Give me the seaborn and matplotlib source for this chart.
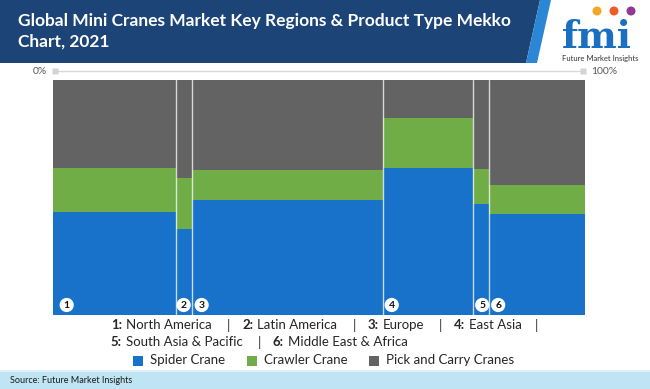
import matplotlib
matplotlib.use("Agg")
import matplotlib.pyplot as plt
import seaborn as sns
import numpy as np
from matplotlib.patches import Polygon, Rectangle, Circle

# ============================================================
# DATA
# ============================================================

regions = ["North America", "Latin America", "Europe", "East Asia",
           "South Asia & Pacific", "Middle East & Africa"]
region_share = [23.1, 3.0, 35.9, 17.0, 3.0, 18.0]

products = ["Spider Crane", "Crawler Crane", "Pick and Carry Cranes"]
spider = [43.7, 36.7, 48.9, 62.7, 47.2, 42.9]
crawler = [19.0, 21.4, 12.8, 21.3, 14.9, 12.3]
pick_carry = [37.3, 41.9, 38.3, 16.0, 37.9, 44.8]

colors = ["#1872c9", "#70ad47", "#636363"]

# ============================================================
# FIGURE
# ============================================================

sns.set_theme(style="white")
plt.rcParams["font.family"] = ["Lato", "DejaVu Sans"]

W, H = 650, 389
fig = plt.figure(figsize=(6.5, 3.89), dpi=100)

# overlay in pixel coordinates for header / legend / footer
bg = fig.add_axes([0, 0, 1, 1])
bg.set_xlim(0, W)
bg.set_ylim(H, 0)
bg.axis("off")

# header band
bg.add_patch(Polygon([(0, 0), (540, 0), (526, 63), (0, 63)],
                     closed=True, color="#1c4476", lw=0))
bg.add_patch(Polygon([(540, 0), (551, 0), (537, 63), (526, 63)],
                     closed=True, color="#2b86d6", lw=0))

bg.text(18, 21, "Global Mini Cranes Market Key Regions & Product Type Mekko",
        color="white", fontsize=12.5, fontweight="bold", va="center")
bg.text(18, 42, "Chart, 2021", color="white", fontsize=12.5,
        fontweight="bold", va="center")

# logo
bg.text(597, 48, "fmi", color="#1b6fc0", fontsize=27, fontweight="bold",
        family="DejaVu Serif", ha="center", va="baseline")
for cx, c in zip([597, 614, 631], ["#f5a623", "#ef5a2a", "#8e3a96"]):
    bg.add_patch(Circle((cx, 11), 4.5, color=c, lw=0))
bg.text(600, 58, "Future Market Insights", color="#333333", fontsize=5.5,
        ha="center", va="center")

# top percentage axis
bg.plot([55, 583], [71, 71], color="#d9d9d9", lw=1)
bg.plot([55, 583], [71, 71], ls="none", marker="s", ms=5,
        mfc="#d4d4d4", mec="none")
bg.text(47, 71, "0%", color="#595959", fontsize=7.5, ha="right", va="center")
bg.text(591, 71, "100%", color="#595959", fontsize=7.5, ha="left", va="center")

# ============================================================
# MEKKO BARS
# ============================================================

x0, x1, y0, y1 = 52.7, 585, 80, 315
ax = fig.add_axes([x0 / W, 1 - y1 / H, (x1 - x0) / W, (y1 - y0) / H])
ax.set_xlim(0, 100)
ax.set_ylim(0, 100)
ax.axis("off")
ax.patch.set_alpha(0)

lefts = np.concatenate([[0], np.cumsum(region_share)[:-1]])
bottom = np.zeros(len(regions))
for vals, col, name in zip([spider, crawler, pick_carry], colors, products):
    ax.bar(lefts, vals, width=region_share, bottom=bottom, align="edge",
           color=col, lw=0, label=name)
    bottom += np.array(vals)

for xl in lefts[1:]:
    ax.axvline(xl, color="white", alpha=0.75, lw=1)

# numbered badges
badge_dx = [14, 8, 10, 9, 9, 9]
for i, xl in enumerate(lefts):
    ax.annotate(str(i + 1), xy=(xl, 0), xytext=(badge_dx[i] * 0.72, 10 * 0.72),
                textcoords="offset points", ha="center", va="center",
                fontsize=7.5, fontweight="bold", color="#111111",
                bbox=dict(boxstyle="circle,pad=0.25", fc="white", ec="none"))

# ============================================================
# LEGEND TEXT
# ============================================================

fs = 9.5
txt_col = "#262626"
line1 = [(110.7, "1:", 228.7), (242.7, "2:", 354), (368, "3:", 440.7), (454, "4:", 536.7)]
starts1 = [126, 257, 383, 469]
for (xn, num, xbar), xs, name in zip(line1, starts1, regions[:4]):
    bg.text(xn, 325, num, fontsize=fs, fontweight="bold", color=txt_col, va="center")
    bg.text(xs, 325, name, fontsize=fs, color=txt_col, va="center")
    bg.text(xbar, 325, "|", fontsize=fs, color=txt_col, va="center", ha="center")

line2 = [(110.7, "5:", 126), (272.7, "6:", 288)]
for (xn, num, xs), name in zip(line2, regions[4:]):
    bg.text(xn, 342.5, num, fontsize=fs, fontweight="bold", color=txt_col, va="center")
    bg.text(xs, 342.5, name, fontsize=fs, color=txt_col, va="center")
bg.text(259, 342.5, "|", fontsize=fs, color=txt_col, va="center", ha="center")

for xs, name, col in zip([133, 246.7, 369], products, colors):
    bg.add_patch(Rectangle((xs, 355.5), 10, 10, color=col, lw=0))
    bg.text(xs + 17, 360.5, name, fontsize=fs, color=txt_col, va="center")

# ============================================================
# FOOTER
# ============================================================

bg.add_patch(Rectangle((0, 370), W, 2, color="#dff1f9", lw=0))
bg.add_patch(Rectangle((0, 372), W, 17, color="#bfe4f3", lw=0))
bg.text(10, 380.5, "Source: Future Market Insights", fontsize=6.5,
        color="#1a1a1a", va="center")

fig.savefig("out.png", dpi=100)
